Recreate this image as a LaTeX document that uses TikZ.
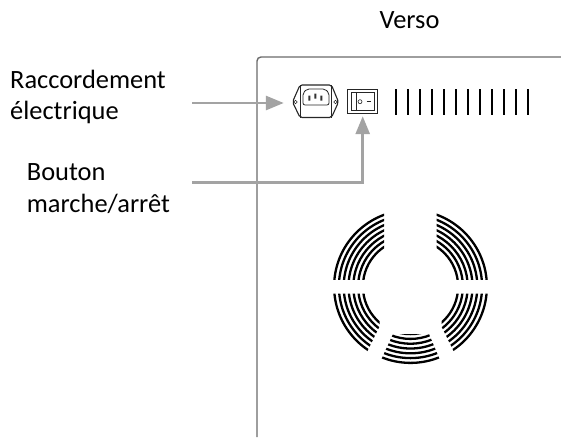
\documentclass[tikz,border=0pt]{standalone}
\usepackage{fontspec}
\setmainfont{Carlito}
\usetikzlibrary{arrows.meta}
\tikzset{
    txtlabel/.style={inner sep=0pt, align=left, font=\fontsize{26.4}{31.5}\selectfont},
    greyarrow/.style={draw=arrowgrey, line width=2.8pt, -{Triangle[length=18pt,width=14pt]}},
    thinline/.style={draw=black!85, line width=0.8pt},
    ventring/.style={line width=2.3pt}
}
\definecolor{arrowgrey}{HTML}{A3A3A3}
\definecolor{panelgrey}{HTML}{6A6A6A}
\newcommand{\ventrings}{%
    \foreach \r in {47.6,52.4,57.2,62,66.8,71.6,76.4}
        \draw [ventring] (410.5,286.5) circle (\r);
}
\begin{document}
\begin{tikzpicture}[x=1pt,y=-1pt]
    \useasboundingbox (0,0) rectangle (561,437);
    % Gehaeuse
    \draw [panelgrey, line width=1.4pt, rounded corners=4pt] (257,437) -- (257,57) -- (561,57);
    \node (verso) [txtlabel] at (409.5,20) {Verso};
    % Netzanschluss
    \node (socket) [minimum width=46pt, minimum height=32pt, inner sep=0pt] at (315.5,101.5) {};
    \draw [thinline, line width=1.1pt, rounded corners=2pt] (300,85) -- (331.5,85) -- (338.5,102) -- (331.5,117.5) -- (300,117.5) -- (292.5,102) -- cycle;
    \draw [thinline, line width=0.7pt] (300,85) -- (300,117.5) (331.5,85) -- (331.5,117.5);
    \draw [thinline, rounded corners=2pt] (303,105) -- (303,93) -- (307,89) -- (325,89) -- (329,93) -- (329,105) -- cycle;
    \draw [thinline, line width=0.6pt] (295.5,102) circle (1.8) (335.5,102) circle (1.8);
    \fill [black!80] (308.3,95.5) rectangle (310.3,100.5) (314.3,93.5) rectangle (316.3,98.5) (320.3,95.5) rectangle (322.3,100.5);
    % Schalter
    \node (switch) [draw=black!85, line width=1pt, minimum width=30pt, minimum height=24pt, inner sep=0pt] at (362.7,101.7) {};
    \draw [thinline, line width=0.7pt] (351.3,92.7) rectangle (374.3,110.7) (356,92.7) -- (356,110.7);
    \draw [thinline, line width=0.6pt] (360,101.7) circle (2);
    \draw [thinline, line width=0.7pt] (366.7,101.7) -- (370.7,101.7);
    % Lueftungsschlitze
    \foreach \i in {0,...,11}
        \draw [line width=1.9pt] (396+12*\i,89.3) -- (396+12*\i,114.7);
    % Luefter
    \begin{scope}
        \clip (320,200) rectangle (384,279.5);
        \ventrings
    \end{scope}
    \begin{scope}
        \clip (436.7,200) rectangle (500,279.5);
        \ventrings
    \end{scope}
    \begin{scope}
        \clip (320,293.5) -- (379.5,293.5) -- (379.5,326.5) -- (367,352) -- (320,352) -- cycle;
        \ventrings
    \end{scope}
    \begin{scope}
        \clip (500,293.5) -- (441.5,293.5) -- (441.5,326.5) -- (454,352) -- (500,352) -- cycle;
        \ventrings
    \end{scope}
    \begin{scope}
        \clip (393,334) -- (429,334) -- (440,360) -- (440,370) -- (381,370) -- (381,360) -- cycle;
        \ventrings
    \end{scope}
    % Beschriftung
    \node (raccord) [txtlabel, anchor=west] at (10,97) {Raccordement\\électrique};
    \node (bouton) [txtlabel, anchor=west] at (26.7,188.5) {Bouton\\marche/arrêt};
    % Pfeile
    \coordinate (raccordstart) at (192,103);
    \coordinate (boutonstart) at (192,182.5);
    \draw [greyarrow, shorten >=8.5pt] (raccordstart) -- (socket.west |- raccordstart);
    \draw [greyarrow, shorten >=2pt] (boutonstart) -- (switch.south |- boutonstart) -- (switch.south);
\end{tikzpicture}
\end{document}
